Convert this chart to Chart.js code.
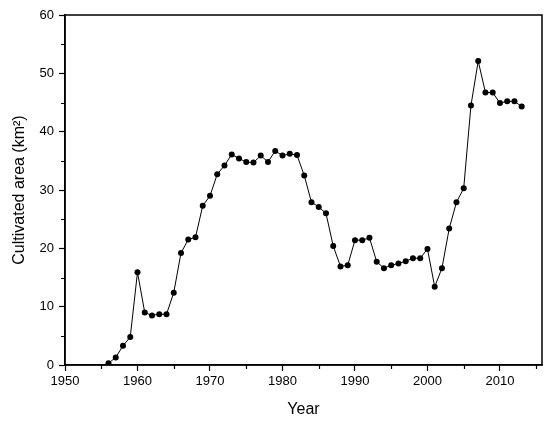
<!DOCTYPE html>
<html>
<head>
<meta charset="utf-8">
<script src="https://cdn.jsdelivr.net/npm/chart.js@4/dist/chart.umd.min.js"></script>
<style>
    html, body { margin: 0; padding: 0; background: #fff; }
    canvas { display: block; }
</style>
</head>
<body>
<canvas id="areaChart" width="550" height="425"></canvas>
<script>
const years = [1956, 1957, 1958, 1959, 1960, 1961, 1962, 1963, 1964, 1965,
    1966, 1967, 1968, 1969, 1970, 1971, 1972, 1973, 1974, 1975,
    1976, 1977, 1978, 1979, 1980, 1981, 1982, 1983, 1984, 1985,
    1986, 1987, 1988, 1989, 1990, 1991, 1992, 1993, 1994, 1995,
    1996, 1997, 1998, 1999, 2000, 2001, 2002, 2003, 2004, 2005,
    2006, 2007, 2008, 2009, 2010, 2011, 2012, 2013];

const area = [0.3, 1.3, 3.3, 4.8, 15.9, 9.0, 8.5, 8.7, 8.7, 12.4,
    19.2, 21.5, 21.9, 27.3, 29.0, 32.7, 34.2, 36.1, 35.4, 34.8,
    34.7, 35.9, 34.8, 36.7, 35.9, 36.2, 36.0, 32.5, 27.9, 27.1,
    26.0, 20.4, 16.9, 17.1, 21.4, 21.4, 21.8, 17.7, 16.6, 17.1,
    17.4, 17.8, 18.3, 18.3, 19.9, 13.4, 16.6, 23.4, 27.9, 30.3,
    44.5, 52.1, 46.7, 46.7, 44.9, 45.2, 45.2, 44.3];

const xTicks = [1950, 1960, 1970, 1980, 1990, 2000, 2010];
const xMinorTicks = [1955, 1965, 1975, 1985, 1995, 2005, 2015];
const yTicks = [0, 10, 20, 30, 40, 50, 60];
const yMinorTicks = [5, 15, 25, 35, 45, 55];

const black = '#000000';
const fontFamily = "'Liberation Sans', Arial, sans-serif";

// frame around the plot + short minor ticks
const framePlugin = {
    id: 'frame',
    afterDraw(chart) {
        const { ctx, chartArea: a, scales } = chart;
        ctx.save();
        ctx.strokeStyle = black;
        ctx.lineWidth = 1.5;
        ctx.strokeRect(a.left, a.top, a.right - a.left, a.bottom - a.top);
        ctx.lineWidth = 1.2;
        ctx.beginPath();
        xMinorTicks.forEach(v => {
            const px = Math.round(scales.x.getPixelForValue(v)) + 0.5;
            ctx.moveTo(px, a.bottom);
            ctx.lineTo(px, a.bottom + 4);
        });
        yMinorTicks.forEach(v => {
            const py = Math.round(scales.y.getPixelForValue(v)) + 0.5;
            ctx.moveTo(a.left, py);
            ctx.lineTo(a.left - 4, py);
        });
        ctx.stroke();
        ctx.restore();
    }
};

new Chart(document.getElementById('areaChart'), {
    type: 'line',
    data: {
        datasets: [{
            data: years.map((y, i) => ({ x: y, y: area[i] })),
            borderColor: black,
            borderWidth: 1,
            backgroundColor: black,
            pointBackgroundColor: black,
            pointBorderWidth: 0,
            pointRadius: 3,
            tension: 0,
            fill: false
        }]
    },
    options: {
        responsive: false,
        animation: false,
        layout: { padding: { top: 15, right: 8, left: 0, bottom: 0 } },
        plugins: { legend: { display: false }, tooltip: { enabled: false } },
        scales: {
            x: {
                type: 'linear',
                min: 1950,
                max: 2015.8,
                afterBuildTicks: s => { s.ticks = xTicks.map(v => ({ value: v })); },
                afterFit: s => { s.height = 60; },
                border: { display: true, color: black, width: 1.5 },
                grid: { drawOnChartArea: false, drawTicks: true, tickLength: 6, tickColor: black, tickWidth: 1.2 },
                ticks: { color: black, padding: 3, maxRotation: 0, callback: v => String(v), font: { family: fontFamily, size: 13 } },
                title: { display: true, text: 'Year', color: black, padding: { top: 4, bottom: 6 }, font: { family: fontFamily, size: 16 } }
            },
            y: {
                min: 0,
                max: 60,
                afterBuildTicks: s => { s.ticks = yTicks.map(v => ({ value: v })); },
                afterFit: s => { s.width = 65; },
                border: { display: true, color: black, width: 1.5 },
                grid: { drawOnChartArea: false, drawTicks: true, tickLength: 6, tickColor: black, tickWidth: 1.2 },
                ticks: { color: black, padding: 5, callback: v => String(v), font: { family: fontFamily, size: 13 } },
                title: { display: true, text: 'Cultivated area (km²)', color: black, padding: { top: 10, bottom: 4 }, font: { family: fontFamily, size: 16 } }
            }
        }
    },
    plugins: [framePlugin]
});
</script>
</body>
</html>
